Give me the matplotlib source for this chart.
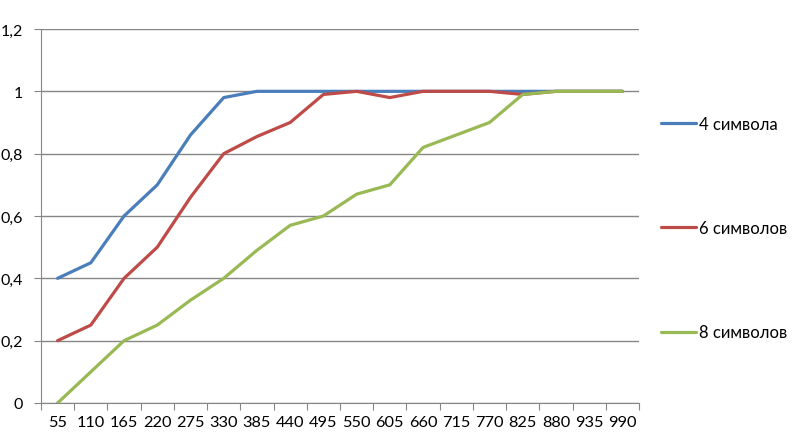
import numpy as np
import matplotlib.pyplot as plt
from matplotlib.ticker import FixedLocator, FuncFormatter

plt.rcParams['font.family'] = ['Lato', 'DejaVu Sans']

# data
categories = [55, 110, 165, 220, 275, 330, 385, 440, 495, 550,
              605, 660, 715, 770, 825, 880, 935, 990]
sym4 = [0.40, 0.45, 0.60, 0.70, 0.86, 0.98, 1.00, 1.00, 1.00, 1.00,
        1.00, 1.00, 1.00, 1.00, 1.00, 1.00, 1.00, 1.00]
sym6 = [0.20, 0.25, 0.40, 0.50, 0.66, 0.80, 0.855, 0.90, 0.99, 1.00,
        0.98, 1.00, 1.00, 1.00, 0.99, 1.00, 1.00, 1.00]
sym8 = [0.00, 0.10, 0.20, 0.25, 0.33, 0.40, 0.49, 0.57, 0.60, 0.67,
        0.70, 0.82, 0.86, 0.90, 0.99, 1.00, 1.00, 1.00]
labels = ['4 символа', '6 символов', '8 символов']
colors = ['#4A7EBB', '#BE4B48', '#98B954']
yticks = [0, 0.2, 0.4, 0.6, 0.8, 1.0, 1.2]

fig = plt.figure(figsize=(7.93, 4.39), dpi=100)
ax = fig.add_axes([41/793, 1-404/439, (639-41)/793, (404-30)/439])

x = np.arange(len(categories))
for ys, lab, c in zip([sym4, sym6, sym8], labels, colors):
    ax.plot(x, ys, color=c, lw=2.3, label=lab, solid_capstyle='round')

ax.set_xlim(-0.5, len(categories) - 0.5)
ax.set_ylim(0, 1.2)

# category axis: tick marks between categories, labels at centres
ax.xaxis.set_major_locator(FixedLocator(np.arange(len(categories) + 1) - 0.5))
ax.xaxis.set_minor_locator(FixedLocator(x))
ax.set_xticklabels([])
ax.set_xticklabels([str(c) for c in categories], minor=True)
ax.tick_params(axis='x', which='major', length=5, color='#868686', direction='out')
ax.tick_params(axis='x', which='minor', length=0, pad=9, labelsize=11.8)

ax.set_yticks(yticks)
ax.yaxis.set_major_formatter(FuncFormatter(lambda v, p: ('%g' % round(v, 1)).replace('.', ',')))
ax.tick_params(axis='y', length=5, color='#868686', direction='out', pad=8, labelsize=11.5)

ax.grid(axis='y', color='#868686', lw=1)
ax.set_axisbelow(True)
for s in ['top', 'right']:
    ax.spines[s].set_visible(False)
for s in ['left', 'bottom']:
    ax.spines[s].set_color('#868686')

leg = fig.legend(loc='center left', bbox_to_anchor=(653/793, 1-229/439),
                 frameon=False, fontsize=12, labelspacing=5.3,
                 handlelength=2.1, handletextpad=0.15, borderpad=0)
for h in leg.get_lines():
    h.set_linewidth(2.3)

fig.savefig('out.png', dpi=100)
